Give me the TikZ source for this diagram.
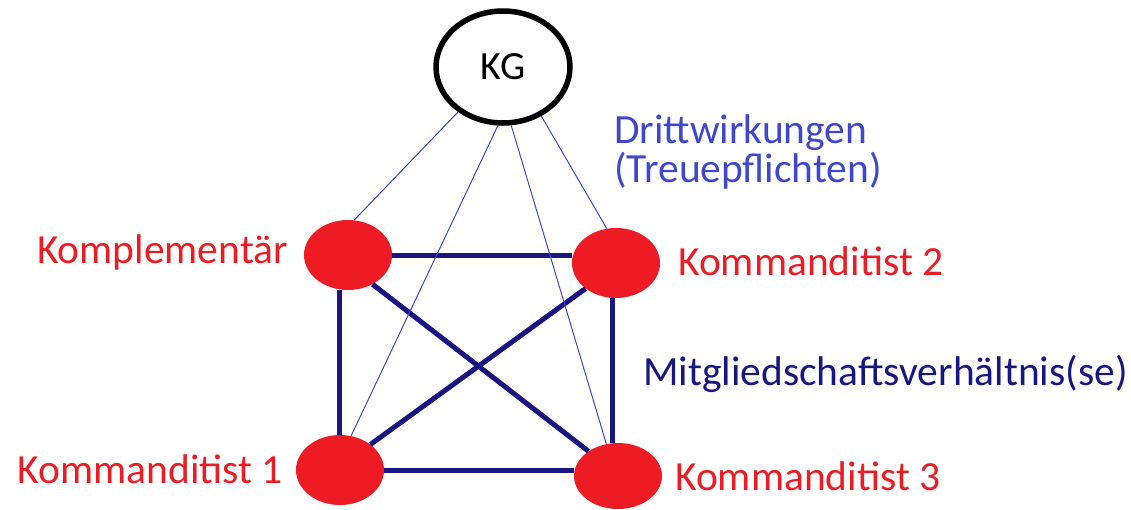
\documentclass[tikz,border=0pt]{standalone}
\usepackage{fontspec}
\setmainfont{Carlito}
\usetikzlibrary{shapes.geometric}
\definecolor{partnerred}{RGB}{237,28,36}
\definecolor{tieblue}{RGB}{25,22,130}
\definecolor{thirdblue}{RGB}{63,72,204}
\begin{document}
\begin{tikzpicture}[x=1pt,y=-1pt,
  partner/.style={ellipse, fill=partnerred, minimum width=88pt, minimum height=70pt, inner sep=0pt},
  membership/.style={draw=tieblue, line width=5pt},
  thirdparty/.style={draw=thirdblue, line width=1pt},
  redlabel/.style={text=partnerred, font=\fontsize{41.5}{41.5}\selectfont},
]
\useasboundingbox (0,0) rectangle (1131,509);
\fill[white] (0,0) rectangle (1131,509);

% company
\node[draw=black, line width=5.5pt, ellipse, minimum width=134pt, minimum height=112pt, inner sep=0pt,
      font=\fontsize{40}{40}\selectfont] (kg) at (503,67) {KG};

% partners
\node[partner] (komp) at (348,255) {};
\node[partner] (k2) at (616,263) {};
\node[partner] (k1) at (340,470) {};
\node[partner, minimum height=66pt] (k3) at (618,476) {};

% membership relations
\draw[membership] (komp.east) -- (k2.west |- komp.east);
\draw[membership] (k1.east) -- (k3.west |- k1.east);
\draw[membership] (339,290) coordinate (lt) -- (339,435) coordinate (lb);
\draw[membership] (612,298) coordinate (rt) -- (612,443) coordinate (rb);
\draw[membership] (komp.-50) -- (k3.140);
\draw[membership] (k2.-140) -- (k1.40);

% third-party effects
\draw[thirdparty] (kg.-135) -- (komp.80);
\draw[thirdparty] (kg.-52) -- (k2.105);
\draw[thirdparty] (kg.-95) -- (k1.72);
\draw[thirdparty] (kg.-82) -- (k3.110);

% labels
\node[redlabel, anchor=base east, inner sep=0pt] (lkomp) at (288,263) {Komplementär};
\node[redlabel, anchor=base west, inner sep=0pt] (lk2) at (678,275) {Kommanditist 2};
\node[redlabel, anchor=base east, inner sep=0pt] (lk1) at (283,483) {Kommanditist 1};
\node[redlabel, anchor=base west, inner sep=0pt] (lk3) at (675,490) {Kommanditist 3};
\node[text=thirdblue, font=\fontsize{41.5}{37}\selectfont, anchor=base west, inner sep=0pt, align=left] (ldritt) at (614,182) {Drittwirkungen\\(Treuepflichten)};
\node[text=tieblue, font=\fontsize{41.5}{41.5}\selectfont, anchor=base west, inner sep=0pt] (lmit) at (643,385) {Mitgliedschaftsverhältnis(se)};
\end{tikzpicture}
\end{document}
